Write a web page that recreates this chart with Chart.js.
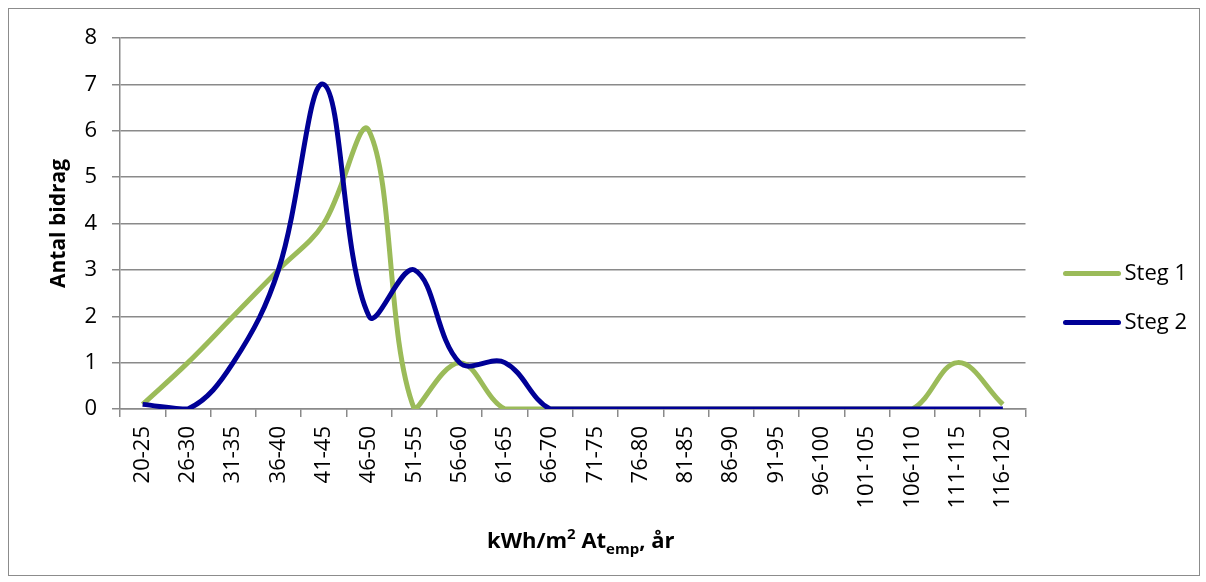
<!DOCTYPE html>
<html>
<head>
<meta charset="utf-8">
<script src="https://cdn.jsdelivr.net/npm/chart.js@4.4.1/dist/chart.umd.min.js"></script>
<style>
  html, body { margin: 0; padding: 0; background: #fff; }
  #frame {
    position: absolute; left: 8px; top: 8px;
    width: 1190px; height: 566px;
    border: 1px solid #8c8c8c;
  }
  canvas { display: block; }
</style>
</head>
<body>
<div id="frame"><canvas id="chart" width="1190" height="566"></canvas></div>
<script>
"use strict"

// energiklasser (kWh/m2 Atemp, år)
const categories = ['20-25', '26-30', '31-35', '36-40', '41-45', '46-50', '51-55', '56-60', '61-65', '66-70',
    '71-75', '76-80', '81-85', '86-90', '91-95', '96-100', '101-105', '106-110', '111-115', '116-120'];

const steg1 = [0.1, 1, 2, 3, 4, 6, 0, 1, 0, 0, 0, 0, 0, 0, 0, 0, 0, 0, 1, 0.1];
const steg2 = [0.1, 0, 1, 3, 7, 2, 3, 1, 1, 0, 0, 0, 0, 0, 0, 0, 0, 0, 0, 0];

const yTicks = [0, 1, 2, 3, 4, 5, 6, 7, 8];

const FONT = "'Open Sans', 'Liberation Sans', sans-serif";
const GRID = '#8a8a8a';

// egen legend till höger om diagrammet
const sideLegend = {
    id: 'sideLegend',
    afterDraw(chart) {
        const ctx = chart.ctx;
        const x0 = chart.chartArea.right + 40;
        const midY = chart.height / 2 + 6;
        const sets = chart.data.datasets;
        ctx.save();
        ctx.font = '22px ' + FONT;
        ctx.textBaseline = 'middle';
        ctx.lineCap = 'round';
        sets.forEach((ds, i) => {
            const y = midY + (i - (sets.length - 1) / 2) * 49;
            ctx.strokeStyle = ds.borderColor;
            ctx.lineWidth = 5;
            ctx.beginPath();
            ctx.moveTo(x0, y);
            ctx.lineTo(x0 + 53, y);
            ctx.stroke();
            ctx.fillStyle = '#000';
            ctx.fillText(ds.label, x0 + 59, y);
        });
        ctx.restore();
    }
};

// x-axelns titel med upphöjt och nedsänkt
const xTitle = {
    id: 'xTitle',
    afterDraw(chart) {
        const ctx = chart.ctx;
        const parts = [
            { t: 'kWh/m', size: 22, dy: 0 },
            { t: '2', size: 15, dy: -9 },
            { t: ' At', size: 22, dy: 0 },
            { t: 'emp', size: 15, dy: 6 },
            { t: ', år', size: 22, dy: 0 }
        ];
        ctx.save();
        ctx.fillStyle = '#000';
        ctx.textBaseline = 'alphabetic';
        let total = 0;
        parts.forEach(p => {
            ctx.font = 'bold ' + p.size + 'px ' + FONT;
            p.w = ctx.measureText(p.t).width;
            total += p.w;
        });
        let x = (chart.chartArea.left + chart.chartArea.right) / 2 + 8 - total / 2;
        const base = 539;
        parts.forEach(p => {
            ctx.font = 'bold ' + p.size + 'px ' + FONT;
            ctx.fillText(p.t, x, base + p.dy);
            x += p.w;
        });
        ctx.restore();
    }
};

const ctx = document.getElementById('chart');

const myChart = new Chart(ctx, {
    type: 'line',
    data: {
        labels: categories,
        datasets: [{
            label: 'Steg 1',
            data: steg1,
            borderColor: '#9bbb59',
            backgroundColor: '#9bbb59',
            borderWidth: 5,
            pointRadius: 0,
            tension: 0.38,
            order: 1
        }, {
            label: 'Steg 2',
            data: steg2,
            borderColor: '#000096',
            backgroundColor: '#000096',
            borderWidth: 5,
            pointRadius: 0,
            tension: 0.38,
            order: 0
        }]
    },
    options: {
        responsive: false,
        animation: false,
        layout: {
            padding: { top: 29, right: 173.5, bottom: 0, left: 0 }
        },
        plugins: {
            legend: { display: false },
            tooltip: { enabled: false }
        },
        scales: {
            x: {
                offset: true,
                afterFit: (axis) => { axis.height = 166; },
                grid: {
                    offset: true,
                    drawOnChartArea: false,
                    drawTicks: true,
                    tickLength: 8,
                    color: GRID,
                    lineWidth: 1.5
                },
                border: { display: true, color: GRID, width: 1.5 },
                ticks: {
                    autoSkip: false,
                    minRotation: 90,
                    maxRotation: 90,
                    padding: 9,
                    color: '#000',
                    font: { family: FONT, size: 22 }
                }
            },
            y: {
                min: 0,
                max: 8,
                afterFit: (axis) => { axis.width = 111; },
                afterBuildTicks: (axis) => { axis.ticks = yTicks.map(v => ({ value: v })); },
                grid: {
                    color: GRID,
                    lineWidth: 1.5,
                    tickLength: 8
                },
                border: { display: true, color: GRID, width: 1.5 },
                ticks: {
                    padding: 15,
                    color: '#000',
                    font: { family: FONT, size: 22 }
                },
                title: {
                    display: true,
                    text: 'Antal bidrag',
                    color: '#000',
                    font: { family: FONT, size: 21, weight: 'bold' },
                    padding: { top: 37, bottom: 0 }
                }
            }
        }
    },
    plugins: [sideLegend, xTitle]
});
</script>
</body>
</html>
